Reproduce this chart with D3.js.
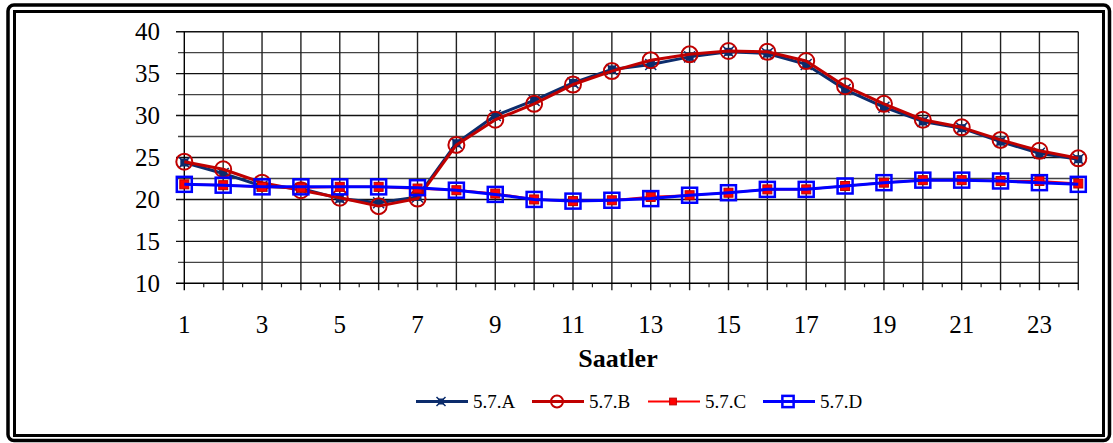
<!DOCTYPE html>
<html>
<head>
<meta charset="utf-8">
<script src="https://cdn.jsdelivr.net/npm/d3@7"></script>
<style>
  body { margin: 0; background: #fff; }
  svg { display: block; }
  svg text { font-family: "Liberation Serif", "Times New Roman", "DejaVu Serif", serif; }
</style>
</head>
<body>
<div id="chart-area"></div>
<script>
// hours on the x axis
var hours = d3.range(1, 25);
var xTickLabels = [1, 3, 5, 7, 9, 11, 13, 15, 17, 19, 21, 23];
var yTickLabels = [10, 15, 20, 25, 30, 35, 40];

var seriesNames = ["5.7.A", "5.7.B", "5.7.C", "5.7.D"];

var valuesA = [24.4, 23.1, 21.6, 21.3, 20.1, 19.6, 20.3, 26.7, 30.0, 31.8, 33.9, 35.5,
               36.1, 37.0, 37.6, 37.4, 36.1, 33.1, 31.0, 29.3, 28.5, 26.9, 25.5, 24.8];
var valuesB = [24.5, 23.6, 22.0, 21.1, 20.2, 19.2, 20.1, 26.5, 29.5, 31.4, 33.7, 35.3,
               36.6, 37.3, 37.7, 37.6, 36.5, 33.5, 31.4, 29.5, 28.6, 27.1, 25.8, 24.9];
var valuesC = [21.8, 21.7, 21.5, 21.4, 21.5, 21.5, 21.3, 21.1, 20.7, 20.0, 19.8, 19.9,
               20.3, 20.5, 20.8, 21.2, 21.2, 21.6, 22.0, 22.3, 22.3, 22.2, 22.2, 21.9];
var valuesD = [21.8, 21.7, 21.5, 21.5, 21.5, 21.5, 21.4, 21.1, 20.6, 20.0, 19.8, 19.9,
               20.1, 20.5, 20.8, 21.2, 21.2, 21.6, 22.0, 22.3, 22.3, 22.2, 22.0, 21.8];

var W = 1113, H = 443;

var svg = d3.select("#chart-area").append("svg")
    .attr("width", W)
    .attr("height", H);

// chart border (thick rounded outer, thinner inner)
svg.append("rect")
    .attr("x", 8).attr("y", 5)
    .attr("width", 1101.5).attr("height", 435.5)
    .attr("rx", 6)
    .attr("fill", "none").attr("stroke", "#000").attr("stroke-width", 3.5);
svg.append("rect")
    .attr("x", 14.5).attr("y", 11.5)
    .attr("width", 1089).attr("height", 424)
    .attr("fill", "none").attr("stroke", "#000").attr("stroke-width", 3);

var x = d3.scaleLinear().domain([1, 24]).range([184.3, 1078.3]);
var y = d3.scaleLinear().domain([10, 40]).range([283.3, 31.7]);

// horizontal grid every 2.5
var hGrid = d3.range(12.5, 40.1, 2.5);
svg.append("g").selectAll("line")
    .data(hGrid)
    .enter().append("line")
    .attr("x1", d => d % 5 === 0 ? 176 : 178)
    .attr("x2", x(24))
    .attr("y1", d => y(d)).attr("y2", d => y(d))
    .attr("stroke", d => d % 5 === 0 ? "#111" : "#444")
    .attr("stroke-width", 1.4);

// vertical grid at each hour, running a little under the axis
svg.append("g").selectAll("line")
    .data(hours)
    .enter().append("line")
    .attr("x1", d => x(d)).attr("x2", d => x(d))
    .attr("y1", y(40)).attr("y2", y(10) + 7)
    .attr("stroke", d => d === 1 ? "#000" : "#222")
    .attr("stroke-width", 1.4);

// minor ticks between the hours
svg.append("g").selectAll("line")
    .data(d3.range(1.5, 24, 1))
    .enter().append("line")
    .attr("x1", d => x(d)).attr("x2", d => x(d))
    .attr("y1", y(10)).attr("y2", y(10) + 4)
    .attr("stroke", "#222").attr("stroke-width", 1.2);

// x axis line
svg.append("line")
    .attr("x1", 176).attr("x2", x(24))
    .attr("y1", y(10)).attr("y2", y(10))
    .attr("stroke", "#000").attr("stroke-width", 1.5);

// y tick labels
svg.append("g").selectAll("text")
    .data(yTickLabels)
    .enter().append("text")
    .attr("x", 160)
    .attr("y", d => y(d) + 8.5)
    .attr("text-anchor", "end")
    .attr("font-size", 25)
    .text(d => d);

// x tick labels
svg.append("g").selectAll("text")
    .data(xTickLabels)
    .enter().append("text")
    .attr("x", d => x(d))
    .attr("y", 333)
    .attr("text-anchor", "middle")
    .attr("font-size", 25)
    .text(d => d);

// axis title
svg.append("text")
    .attr("x", 618).attr("y", 366.5)
    .attr("text-anchor", "middle")
    .attr("font-size", 26).attr("font-weight", "bold")
    .text("Saatler");

var series = [
    { name: seriesNames[0], values: valuesA, color: "#0c2c6c", width: 3, marker: "star" },
    { name: seriesNames[1], values: valuesB, color: "#c00000", width: 3, marker: "circle" },
    { name: seriesNames[2], values: valuesC, color: "#ff0000", width: 2.2, marker: "filled" },
    { name: seriesNames[3], values: valuesD, color: "#0000ff", width: 3, marker: "hollow" }
];

var line = d3.line()
    .x((d, i) => x(hours[i]))
    .y(d => y(d));

function drawMarker(g, s, cx, cy, scale) {
    if (s.marker === "star") {
        var h = 4 * scale;
        g.append("rect")
            .attr("x", cx - h).attr("y", cy - h)
            .attr("width", 2 * h).attr("height", 2 * h)
            .attr("fill", s.color);
        g.append("path")
            .attr("d", "M" + (cx - h - 1.5) + "," + (cy - h - 1.5) + "L" + (cx + h + 1.5) + "," + (cy + h + 1.5) +
                       "M" + (cx + h + 1.5) + "," + (cy - h - 1.5) + "L" + (cx - h - 1.5) + "," + (cy + h + 1.5))
            .attr("stroke", s.color).attr("stroke-width", 1.5);
    } else if (s.marker === "circle") {
        g.append("circle")
            .attr("cx", cx).attr("cy", cy).attr("r", 8 * scale)
            .attr("fill", "none").attr("stroke", s.color).attr("stroke-width", 2);
    } else if (s.marker === "filled") {
        var f = 4.5 * scale;
        g.append("rect")
            .attr("x", cx - f).attr("y", cy - f)
            .attr("width", 2 * f).attr("height", 2 * f)
            .attr("fill", s.color).attr("stroke", "#c00000").attr("stroke-width", 1);
    } else {
        var q = 7.5 * scale;
        g.append("rect")
            .attr("x", cx - q).attr("y", cy - q)
            .attr("width", 2 * q).attr("height", 2 * q)
            .attr("fill", "none").attr("stroke", s.color).attr("stroke-width", 2.5);
    }
}

series.forEach(s => {
    var g = svg.append("g");
    g.append("path")
        .datum(s.values)
        .attr("d", line)
        .attr("fill", "none")
        .attr("stroke", s.color)
        .attr("stroke-width", s.width)
        .attr("stroke-linejoin", "round");
    s.values.forEach((v, i) => drawMarker(g, s, x(hours[i]), y(v), 1));
});

// legend
var legendX = [416, 532, 648, 763];
var legendY = 401.5;
series.forEach((s, i) => {
    var g = svg.append("g");
    g.append("line")
        .attr("x1", legendX[i]).attr("x2", legendX[i] + 52)
        .attr("y1", legendY).attr("y2", legendY)
        .attr("stroke", s.color).attr("stroke-width", s.width);
    drawMarker(g, s, legendX[i] + 25, legendY, 0.75);
    g.append("text")
        .attr("x", legendX[i] + 57)
        .attr("y", legendY + 6.5)
        .attr("font-size", 19)
        .text(s.name);
});
</script>
</body>
</html>
